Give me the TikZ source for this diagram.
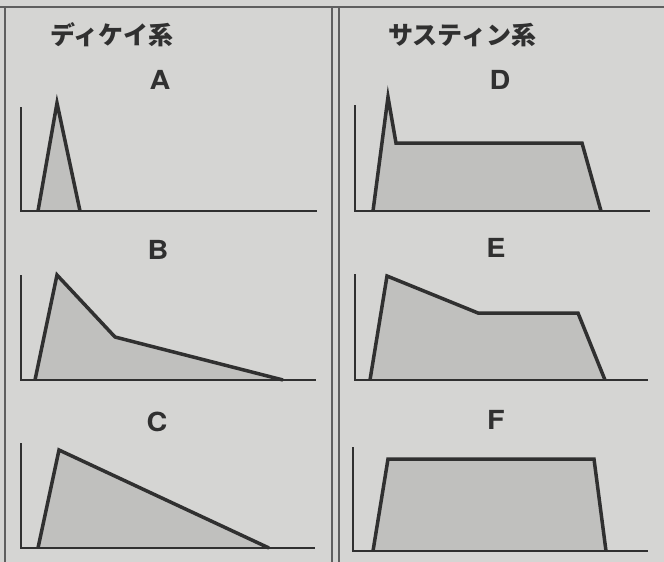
\documentclass[tikz,border=0pt]{standalone}
\usepackage{fontspec}
\usepackage{graphicx}
\setmainfont{TeX Gyre Heros}
\newfontfamily\jp{Noto Sans CJK JP}
\definecolor{bg}{RGB}{213,213,211}
\definecolor{env}{RGB}{192,192,190}
\definecolor{ink}{RGB}{48,48,48}
\definecolor{frame}{RGB}{95,95,95}
\tikzset{
  axis/.style={draw=ink, line width=2pt},
  envl/.style={draw=ink, fill=env, line width=3.5pt, line join=miter},
  panel/.style={draw=frame, line width=1.4pt},
  title/.style={font=\jp\bfseries\fontsize{25}{27}\selectfont, text=ink, inner sep=0pt},
  lab/.style={font=\bfseries\fontsize{25}{26}\selectfont, text=ink, inner sep=0pt}
}
\newcommand{\wide}[1]{\scalebox{1.15}[1.05]{#1}}
\begin{document}
\begin{tikzpicture}[x=1pt,y=-1pt]
\fill[bg] (0,0) rectangle (664,562);
\useasboundingbox (0,0) rectangle (664,562);
% panel frames
\draw[panel] (0,7) -- (664,7);
\draw[panel] (5,7) -- (5,562);
\draw[panel] (332,7) -- (332,562);
\draw[panel] (339,7) -- (339,562);
% titles
\node[title] (t1) at (112,35) {ディケイ系};
\node[title] (t2) at (462,35) {サスティン系};
% labels
\node[lab] (la) at (160,80) {\wide{A}};
\node[lab] (lb) at (158,250) {\wide{B}};
\node[lab] (lc) at (157,422) {\wide{C}};
\node[lab] (ld) at (500,80) {\wide{D}};
\node[lab] (le) at (496,248) {\wide{E}};
\node[lab] (lf) at (496,420) {\wide{F}};
% A
\draw[envl] (38,211) -- (57,103) -- (80,211);
\draw[axis] (21,107) -- (21,211) -- (317,211);
% B
\draw[envl] (35,380) -- (57,275) -- (115,337) -- (283,380);
\draw[axis] (21,275) -- (21,380) -- (316,380);
% C
\draw[envl] (38,548) -- (59,450) -- (269,548);
\draw[axis] (21,443) -- (21,548) -- (315,548);
% D
\draw[envl] (373,211) -- (388,97) -- (396,143) -- (582,143) -- (601,211);
\draw[axis] (355,105) -- (355,211) -- (650,211);
% E
\draw[envl] (370,380) -- (387,276) -- (478,313) -- (578,313) -- (605,380);
\draw[axis] (355,274) -- (355,380) -- (648,380);
% F
\draw[envl] (373,551) -- (388,459) -- (594,459) -- (606,551);
\draw[axis] (353,447) -- (353,551) -- (648,551);
\end{tikzpicture}
\end{document}
